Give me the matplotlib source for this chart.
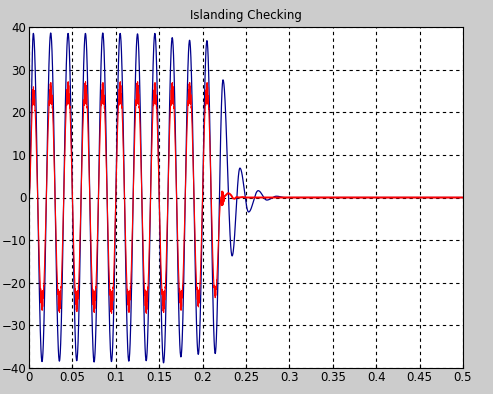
import numpy as np
import matplotlib.pyplot as plt

# extrema of the blue trace (time s, value)
blue_t = [0.0, 0.005, 0.015, 0.025, 0.035, 0.045, 0.055, 0.065, 0.075, 0.085, 0.095,
          0.105, 0.115, 0.125, 0.135, 0.145, 0.155, 0.165, 0.175, 0.185, 0.195,
          0.205, 0.2145, 0.2235, 0.234, 0.243, 0.253, 0.264, 0.274, 0.285, 0.295, 0.5]
blue_v = [0.0, 38.5, -38.5, 38.6, -38.4, 38.5, -38.3, 38.5, -38.6, 38.6, -38.5,
          38.5, -38.4, 38.4, -38.3, 38.5, -38.8, 37.5, -37.4, 36.9, -36.8,
          36.8, -36.6, 27.6, -13.7, 6.9, -3.4, 1.6, -0.6, 0.3, 0.0, 0.0]

# extrema of the red trace before the trip
red_t = [0.0, 0.005, 0.015, 0.025, 0.035, 0.045, 0.055, 0.065, 0.075, 0.085, 0.095,
         0.105, 0.115, 0.125, 0.135, 0.145, 0.155, 0.165, 0.175, 0.185, 0.195,
         0.205, 0.2145, 0.2215]
red_v = [0.0, 26.0, -26.5, 27.0, -27.0, 27.2, -26.8, 27.2, -27.0, 27.0, -27.2,
         27.2, -27.0, 27.2, -27.2, 27.0, -27.0, 27.0, -26.5, 27.0, -25.7,
         27.0, -23.5, 0.0]
# small red wiggle after islanding
red_tail_t = [0.2215, 0.222, 0.2225, 0.223, 0.2235, 0.224, 0.225, 0.227, 0.229,
              0.231, 0.233, 0.235, 0.237, 0.239, 0.242, 0.246, 0.25, 0.5]
red_tail_v = [0.0, -1.8, 1.4, -1.7, 1.2, -1.0, 0.2, 0.6, 1.0, 0.9, 0.5, -0.2,
              -0.3, 0.1, 0.0, 0.1, 0.0, 0.0]


def half_waves(tk, vk, n=40):
    # join successive extrema with half-cosine segments
    ts, ys = [], []
    for i in range(len(tk) - 1):
        s = np.linspace(0, 1, n, endpoint=False)
        ts.append(tk[i] + (tk[i + 1] - tk[i]) * s)
        ys.append(vk[i] + (vk[i + 1] - vk[i]) * (1 - np.cos(np.pi * s)) / 2)
    ts.append([tk[-1]])
    ys.append([vk[-1]])
    return np.concatenate(ts), np.concatenate(ys)


bt, bv = half_waves(blue_t, blue_v)
rt, rv = half_waves(red_t, red_v, n=120)
# switching ripple that shows up as thick blobs on the red peaks (dips below the crest)
rip = 0.5 + 0.5 * np.sin(2 * np.pi * 1500 * rt)
rv = rv - np.sign(rv) * 5.0 * rip * (np.abs(rv) / 27.0) ** 6

fig = plt.figure(figsize=(4.93, 3.94), dpi=100, facecolor='#cccccc')
ax = fig.add_axes([29 / 493, 26 / 394, 434 / 493, 341 / 394])
ax.set_facecolor('white')

ax.plot(bt, bv, color='#00008c', lw=0.9)
ax.plot(rt, rv, color='#ff0000', lw=0.8)
ax.plot(red_tail_t, red_tail_v, color='#ff0000', lw=1.4)

ax.set_xlim(0, 0.5)
ax.set_ylim(-40, 40)
ax.set_xticks(np.arange(0, 0.51, 0.05))
ax.set_xticklabels(['0', '0.05', '0.1', '0.15', '0.2', '0.25', '0.3', '0.35', '0.4', '0.45', '0.5'])
ax.set_yticks(range(-40, 41, 10))
ax.grid(True, color='black', ls=(0, (3, 3)), lw=0.8)
ax.tick_params(direction='in', length=3, labelsize=8.5, pad=2)
for sp in ax.spines.values():
    sp.set_linewidth(0.8)
ax.set_title('Islanding Checking', fontsize=8.5, pad=6)

fig.savefig('out.png', dpi=100, facecolor=fig.get_facecolor())
